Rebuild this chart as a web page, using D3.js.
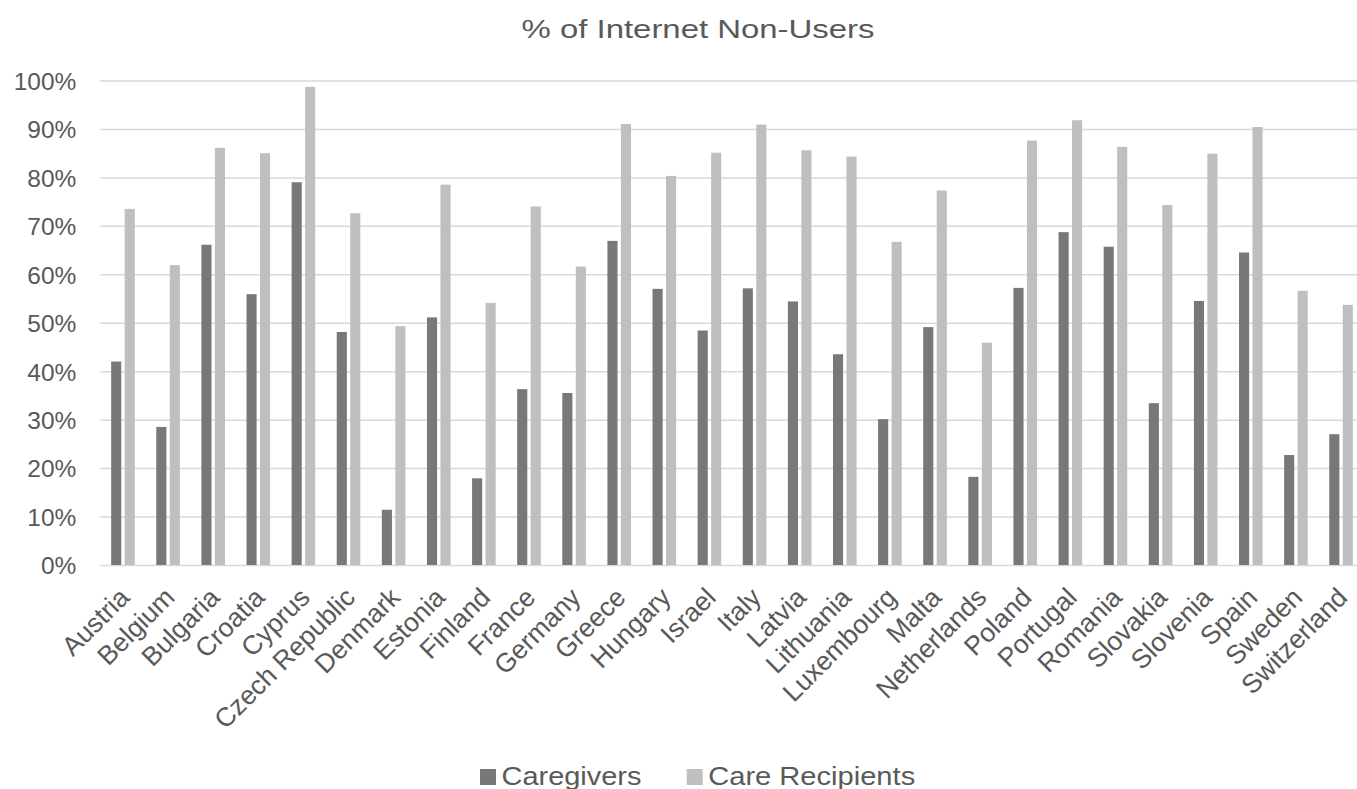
<!DOCTYPE html>
<html>
<head>
<meta charset="utf-8">
<script src="https://cdn.jsdelivr.net/npm/d3@7"></script>
<style>
  body { margin: 0; background: #fff; }
  svg { display: block; font-family: "Liberation Sans", Arial, sans-serif; }
</style>
</head>
<body>
<div id="chart"></div>
<script>
// % of internet non-users, caregivers vs care recipients, by country

const countries = ["Austria", "Belgium", "Bulgaria", "Croatia", "Cyprus", "Czech Republic", "Denmark",
  "Estonia", "Finland", "France", "Germany", "Greece", "Hungary", "Israel", "Italy", "Latvia",
  "Lithuania", "Luxembourg", "Malta", "Netherlands", "Poland", "Portugal", "Romania", "Slovakia",
  "Slovenia", "Spain", "Sweden", "Switzerland"];

const caregivers = [0.42, 0.285, 0.661, 0.559, 0.79, 0.481, 0.114, 0.511, 0.179, 0.363, 0.355,
  0.669, 0.57, 0.484, 0.571, 0.544, 0.435, 0.301, 0.491, 0.182, 0.572, 0.687, 0.657, 0.334,
  0.545, 0.645, 0.227, 0.27];

const careRecipients = [0.735, 0.619, 0.861, 0.85, 0.987, 0.726, 0.493, 0.785, 0.541, 0.74, 0.616,
  0.91, 0.803, 0.851, 0.909, 0.856, 0.843, 0.667, 0.773, 0.459, 0.876, 0.918, 0.863, 0.743,
  0.849, 0.904, 0.566, 0.537];

const seriesNames = ["Caregivers", "Care Recipients"];
const yTicks = [0, 0.1, 0.2, 0.3, 0.4, 0.5, 0.6, 0.7, 0.8, 0.9, 1];

const width = 1357,
  height = 789,
  plotLeft = 100.4,
  plotRight = 1363.6,
  plotTop = 80.5,
  plotBottom = 565,
  textColor = "#595959",
  gridColor = "#d9d9d9",
  colors = ["#787878", "#bfbfbf"];

const rows = countries.map((c, i) => ({ country: c, values: [caregivers[i], careRecipients[i]] }));

const x0 = d3.scaleBand().domain(countries).range([plotLeft, plotRight]).paddingInner(0.477).paddingOuter(0.2385);
const x1 = d3.scaleBand().domain(seriesNames).range([0, x0.bandwidth()]).paddingInner(0.25);
const y = d3.scaleLinear().domain([0, 1]).range([plotBottom, plotTop]);

const svg = d3.select("#chart")
  .append("svg")
  .attr("width", width)
  .attr("height", height);

// y axis with gridlines
const yAxis = svg.append("g")
  .attr("transform", `translate(${plotLeft},0)`)
  .call(d3.axisLeft(y).tickValues(yTicks).tickFormat(d3.format(".0%"))
    .tickSize(-(plotRight - plotLeft)).tickPadding(24));
yAxis.select(".domain").remove();
yAxis.selectAll("line").attr("stroke", gridColor).attr("stroke-width", 1.5);
yAxis.selectAll("text")
  .attr("fill", textColor)
  .attr("font-size", 24.5)
  .attr("font-family", "Liberation Sans, Arial, sans-serif")
  .attr("dy", "0.36em");

// bars
svg.append("g")
  .selectAll("g")
  .data(rows)
  .join("g")
  .attr("transform", d => `translate(${x0(d.country)},0)`)
  .selectAll("rect")
  .data(d => d.values.map((v, i) => ({ key: seriesNames[i], value: v, i })))
  .join("rect")
  .attr("x", d => x1(d.key))
  .attr("y", d => y(d.value))
  .attr("width", x1.bandwidth())
  .attr("height", d => y(0) - y(d.value))
  .attr("fill", d => colors[d.i]);

// x axis labels, rotated 45deg
const xAxis = svg.append("g")
  .attr("transform", `translate(0,${plotBottom})`)
  .call(d3.axisBottom(x0).tickSize(0).tickPadding(0));
xAxis.select(".domain").remove();
xAxis.selectAll("text")
  .attr("fill", textColor)
  .attr("font-size", 26.5)
  .attr("font-family", "Liberation Sans, Arial, sans-serif")
  .attr("text-anchor", "end")
  .attr("x", 0)
  .attr("y", 0)
  .attr("dy", 0)
  .attr("transform", "translate(8,34) rotate(-45)");

// title
svg.append("text")
  .attr("x", 698)
  .attr("y", 38)
  .attr("text-anchor", "middle")
  .attr("font-size", 26.5)
  .attr("fill", textColor)
  .attr("textLength", 353)
  .attr("lengthAdjust", "spacingAndGlyphs")
  .text("% of Internet Non-Users");

// legend
const legendX = [480, 686.7],
  legendLen = [140, 207];
const legend = svg.append("g")
  .selectAll("g")
  .data(seriesNames)
  .join("g")
  .attr("transform", (d, i) => `translate(${legendX[i]},769)`);
legend.append("rect")
  .attr("width", 16)
  .attr("height", 16)
  .attr("fill", (d, i) => colors[i]);
legend.append("text")
  .attr("x", 21.5)
  .attr("y", 16)
  .attr("font-size", 25.6)
  .attr("fill", textColor)
  .attr("textLength", (d, i) => legendLen[i])
  .attr("lengthAdjust", "spacingAndGlyphs")
  .text(d => d);
</script>
</body>
</html>
